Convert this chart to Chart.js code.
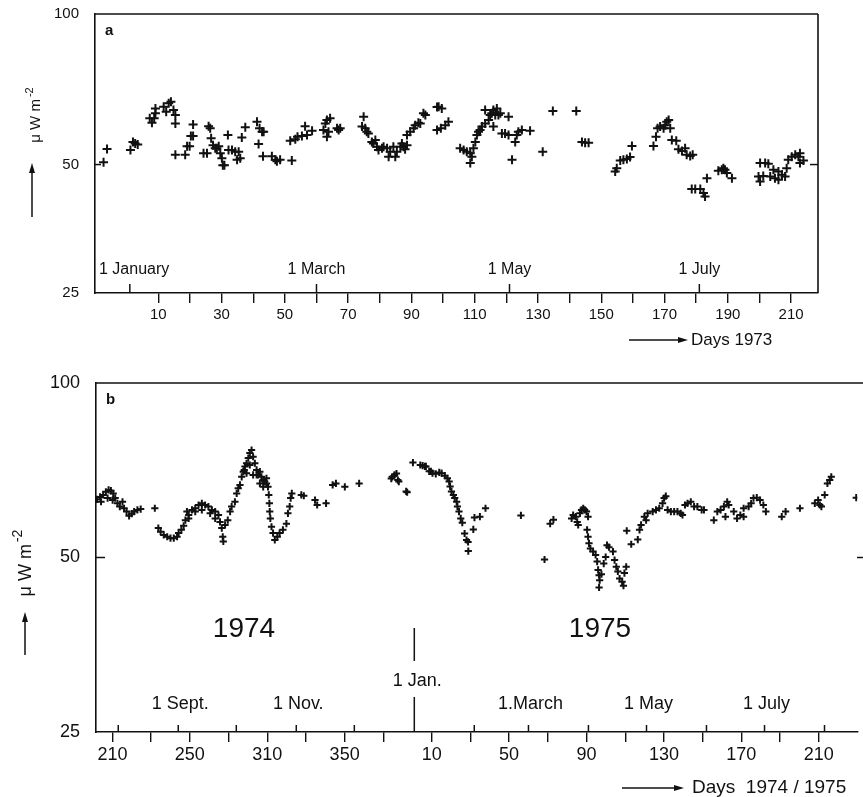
<!DOCTYPE html>
<html><head><meta charset="utf-8">
<script src="https://cdn.jsdelivr.net/npm/chart.js@4.4.1/dist/chart.umd.min.js"></script>
<style>
html,body{margin:0;padding:0;background:#fff;}
#wrap{position:relative;width:863px;height:797px;overflow:hidden;}
canvas{position:absolute;left:0;}
#ca{top:0;} #cb{top:370px;}
</style></head><body>
<div id="wrap"><canvas id="ca" width="863" height="370"></canvas><canvas id="cb" width="863" height="427"></canvas></div>
<script>
// ---------- Panel a: 1973 (day of year, value in µW m^-2) ----------
const aDays = [-7.3,-6.2,1.2,2.0,2.7,3.5,7.3,8.0,8.7,9.1,9.1,11.7,12.5,13.3,14.0,14.8,15.4,15.4,15.4,18.5,19.1,19.9,20.3,21.0,21.0,24.3,25.4,25.9,26.4,26.7,27.3,28.0,28.5,29.1,29.6,30.1,30.4,30.9,32.0,32.2,33.3,34.3,34.9,35.4,35.9,36.4,37.5,41.2,42.0,42.8,43.3,41.7,43.1,45.9,47.0,47.5,48.5,52.2,51.7,53.3,54.0,55.4,56.4,57.0,58.6,62.2,62.8,63.3,63.8,64.3,63.3,66.5,67.0,67.5,74.9,74.4,75.4,75.9,76.4,77.5,78.0,78.6,79.1,79.6,80.7,81.2,82.3,82.8,83.3,84.3,84.9,85.4,86.5,87.0,87.5,88.6,88.0,88.6,89.6,90.7,91.2,92.2,92.8,93.8,94.4,98.1,98.6,98.1,99.6,99.3,100.7,101.7,105.4,106.5,107.5,108.6,109.1,108.6,109.6,110.2,110.7,111.2,111.7,112.3,113.3,113.3,114.4,114.9,115.4,115.9,116.5,117.0,117.5,118.1,118.6,119.6,120.7,120.7,121.8,122.8,123.3,123.8,124.9,127.5,115.9,131.5,134.7,142.1,143.9,144.9,146.0,154.4,154.9,156.0,157.0,158.1,159.1,159.7,166.5,167.3,167.8,168.6,169.7,170.2,171.3,171.8,170.7,172.3,173.7,174.4,175.5,176.5,177.0,178.1,178.9,178.6,179.7,181.3,182.3,182.8,183.4,187.0,188.1,188.6,189.1,189.7,191.3,199.7,200.2,200.2,201.8,202.8,201.2,203.4,204.4,204.9,206.0,206.0,207.1,208.1,208.6,209.1,210.2,211.3,212.3,212.8,212.8,213.9];
const aValues = [50.6,54.0,53.7,55.9,55.5,55.2,62.6,61.3,62.6,64.1,65.6,66.1,64.6,67.2,67.7,65.1,63.6,61.1,52.5,52.5,54.7,54.7,57.5,57.5,60.8,52.9,52.9,60.3,59.7,56.9,55.0,54.2,54.2,54.7,52.9,51.6,49.8,49.8,57.8,53.7,53.7,53.3,51.2,53.3,51.6,57.1,60.0,61.6,59.7,58.7,58.7,55.3,52.1,52.1,51.2,50.8,51.2,51.0,56.2,56.6,57.3,57.5,60.3,57.8,59.0,59.2,61.1,62.1,58.7,62.6,57.3,59.7,59.2,59.7,63.1,60.2,59.7,58.7,58.2,55.9,55.5,56.4,54.6,53.7,54.2,54.6,54.2,52.0,53.3,54.6,52.0,53.3,54.6,55.5,54.6,55.0,53.9,57.8,58.7,59.7,60.6,61.3,61.1,64.1,63.6,66.0,66.1,59.2,65.6,59.7,60.6,61.6,54.2,53.7,53.3,52.9,52.0,50.4,54.2,55.9,57.8,58.7,59.2,60.2,65.1,61.1,62.1,63.6,64.1,65.1,63.6,65.6,63.6,64.1,58.2,58.2,63.1,57.8,51.2,55.9,57.8,58.7,59.2,59.0,60.2,53.3,64.8,64.8,55.9,55.7,55.7,48.3,49.1,51.0,51.2,51.4,51.9,54.8,54.8,57.3,59.7,60.2,59.7,60.6,62.1,59.7,61.6,56.4,56.2,53.9,53.5,54.2,52.5,52.2,52.5,44.2,44.2,44.2,43.3,42.5,46.7,48.5,48.7,49.1,48.7,47.9,46.7,47.1,45.9,50.4,50.4,50.2,47.2,47.1,48.7,46.7,46.3,48.3,47.5,47.1,49.1,51.2,52.0,52.5,52.0,50.4,52.9,51.0];
const aTickValues = [10,20,30,40,50,60,70,80,90,100,110,120,130,140,150,160,170,180,190,200,210];
const aTickLabels = ['10','','30','','50','','70','','90','','110','','130','','150','','170','','190','','210'];
const aYTicks = [25,50,100];
const aMonthDays = [1,60,121,181];
const aMonthLabels = ['1 January','1 March','1 May','1 July'];

// ---------- Panel b: 1974/1975 (day count: 1974 day d -> d, 1975 day d -> 365+d) ----------
const bDays = [202.0,203.6,204.1,205.2,206.6,207.5,208.0,209.2,210.1,210.4,211.4,212.6,213.8,215.2,216.0,217.3,218.6,220.0,221.2,222.9,224.6,231.9,233.7,234.9,236.5,238.3,240.0,241.7,243.4,244.2,245.6,246.8,247.7,248.5,249.4,249.4,251.1,252.8,252.8,254.5,256.2,256.2,257.9,259.6,260.5,261.4,263.1,263.1,264.8,265.6,266.5,267.0,267.3,268.2,269.6,270.8,271.6,273.3,274.2,275.0,275.9,276.8,277.6,278.1,278.5,279.3,279.3,280.2,281.0,281.0,281.9,282.7,282.7,283.6,284.5,284.5,285.3,286.2,286.2,287.0,287.9,287.9,288.7,289.6,289.6,290.4,290.8,291.1,291.3,291.6,292.2,293.0,293.9,295.2,296.4,298.1,299.9,300.7,301.6,302.1,302.7,307.6,308.9,314.7,315.8,320.4,323.8,325.5,330.1,337.5,354.1,354.6,355.8,356.8,357.5,358.0,361.8,362.3,365.3,369.1,370.3,371.5,372.0,373.7,374.6,375.4,377.1,378.9,380.1,381.8,383.1,384.0,384.5,385.2,386.2,386.9,387.9,388.3,389.1,390.0,390.8,392.0,393.0,393.8,393.9,396.5,397.1,399.9,402.8,421.1,433.3,436.2,437.9,447.3,448.1,449.5,450.2,450.7,451.6,452.4,453.3,454.1,455.0,455.8,455.3,455.8,456.3,457.0,458.4,459.7,460.5,461.0,461.5,461.8,461.5,462.7,463.9,464.9,465.6,466.6,468.7,469.5,470.4,471.2,472.1,473.4,474.1,474.6,475.5,475.8,478.1,481.5,482.4,483.2,484.9,485.8,486.6,489.2,490.9,492.6,494.3,495.1,496.0,496.9,498.6,500.3,502.0,503.7,504.6,505.9,507.2,508.9,510.6,512.3,514.5,515.7,520.8,522.6,524.3,526.0,526.8,527.7,528.5,531.1,532.8,534.5,536.2,536.2,538.8,540.1,541.3,543.0,544.7,546.4,547.7,555.9,557.9,565.3,573.0,574.7,575.6,576.4,578.1,579.5,580.7,581.5,594.4];
const bValues = [63.0,63.6,62.4,64.1,64.9,63.3,65.4,65.2,62.8,64.5,63.3,62.0,61.2,62.4,60.8,60.0,59.0,59.5,60.0,60.4,60.6,60.8,56.2,55.4,54.7,54.3,54.0,54.0,54.3,55.1,55.8,56.7,58.0,60.0,59.2,58.4,60.4,60.8,60.0,61.6,62.0,60.4,61.6,61.2,59.6,60.4,60.0,58.4,59.2,57.6,56.2,54.3,53.3,56.9,58.0,60.0,61.2,62.4,64.5,65.8,66.7,68.9,70.3,70.8,71.8,72.7,69.9,74.2,75.7,72.2,76.6,74.6,69.4,72.7,70.8,69.4,69.4,70.3,67.1,68.9,68.0,66.2,67.6,67.1,68.5,66.2,64.1,62.0,60.0,58.4,56.5,55.1,53.6,54.3,55.1,55.8,57.2,59.6,61.2,63.3,64.5,64.1,63.9,62.8,61.6,62.0,66.7,67.1,66.2,67.1,68.4,68.9,69.4,69.8,68.0,67.6,65.0,64.8,72.9,72.2,72.0,71.8,71.8,70.4,70.4,69.9,69.7,70.1,69.9,69.2,68.5,67.6,66.3,65.0,64.1,63.3,62.4,61.2,60.0,58.4,57.4,55.0,53.6,53.2,51.3,55.9,58.6,58.8,60.8,59.1,49.6,57.2,58.1,58.4,59.2,58.8,57.6,56.9,59.6,60.4,60.8,60.4,60.0,58.8,55.8,54.3,52.9,51.8,51.2,50.5,49.2,47.6,46.6,45.7,44.4,46.8,48.8,50.1,52.5,52.1,51.2,49.5,48.2,47.3,46.0,45.4,44.7,47.0,48.2,55.6,52.7,53.7,55.8,56.9,58.8,58.0,59.6,60.0,60.4,60.8,62.0,63.3,63.8,60.4,60.0,60.0,60.0,59.6,59.2,61.6,62.0,62.4,61.2,61.2,60.4,60.4,58.0,60.0,60.4,61.2,58.8,62.4,61.6,60.0,58.4,59.2,58.8,60.8,61.2,62.0,63.3,63.4,62.8,61.6,60.0,58.8,60.0,60.8,62.0,62.8,61.6,61.2,64.1,67.1,68.0,68.9,63.4];
const bTickValues = [210,230,250,270,290,310,330,350,375,395,415,435,455,475,495,515,535,555,575];
const bTickLabels = ['210','','250','','310','','350','','10','','50','','90','','130','','170','','210'];
const bYTicks = [25,50,100];
const bMonthDays = [213,244,274,305,335,366,397,425,456,486,517,547,578];
const bMonthLabels = ['','1 Sept.','','1 Nov.','','1 Jan.','','1.March','','1 May','','1 July',''];

const FONT = "'Liberation Sans', Arial, sans-serif";
const INK = '#111';

// power-law value axis for panel a (its 50 mark sits below the log midpoint)
class PowerScale extends Chart.LinearScale {
  _pw(v){ return Math.pow(v, this.options.exponent || 0.23); }
  getPixelForValue(value){
    if (value === null || value === undefined) return NaN;
    const a = this._pw(this.min), b = this._pw(this.max);
    return this.getPixelForDecimal((this._pw(value) - a) / (b - a));
  }
  getValueForPixel(pixel){
    const p = this.options.exponent || 0.23;
    const a = this._pw(this.min), b = this._pw(this.max);
    return Math.pow(a + this.getDecimalForPixel(pixel) * (b - a), 1 / p);
  }
}
PowerScale.id = 'power';
PowerScale.defaults = Chart.LinearScale.defaults;
Chart.register(PowerScale);

function line(ctx,x1,y1,x2,y2,w){ctx.beginPath();ctx.lineWidth=w;ctx.moveTo(x1,y1);ctx.lineTo(x2,y2);ctx.stroke();}
function arrowUp(ctx,x,yBottom,yTop){
  line(ctx,x,yBottom,x,yTop+6,1.5);
  ctx.beginPath();ctx.moveTo(x,yTop);ctx.lineTo(x-3,yTop+10);ctx.lineTo(x+3,yTop+10);ctx.closePath();ctx.fill();
}
function arrowRight(ctx,x1,x2,y){
  line(ctx,x1,y,x2-6,y,1.4);
  ctx.beginPath();ctx.moveTo(x2,y);ctx.lineTo(x2-10,y-3);ctx.lineTo(x2-10,y+3);ctx.closePath();ctx.fill();
}
function yTitle(ctx,baseX,cy,size){
  ctx.save();ctx.translate(baseX,cy);ctx.rotate(-Math.PI/2);
  ctx.textAlign='left';ctx.textBaseline='alphabetic';
  const main='\u03bc W m', sup='-2';
  ctx.font=size+'px '+FONT;const w1=ctx.measureText(main).width;
  ctx.font=Math.round(size*0.75)+'px '+FONT;const w2=ctx.measureText(sup).width;
  const s=-(w1+w2+2)/2;
  ctx.font=size+'px '+FONT;ctx.fillText(main,s,0);
  ctx.font=Math.round(size*0.75)+'px '+FONT;ctx.fillText(sup,s+w1+2,-size*0.5);
  ctx.restore();
}

const decorA = { id:'decorA', afterDraw(chart){
  const {ctx, chartArea:ca, scales:{x,y}} = chart;
  ctx.save(); ctx.strokeStyle=INK; ctx.fillStyle=INK;
  line(ctx,ca.left,ca.top,ca.right,ca.top,1.6);
  line(ctx,ca.right,ca.top,ca.right,ca.bottom,1.6);
  const y50=y.getPixelForValue(50);
  line(ctx,ca.left,y50,ca.left+6,y50,1.5);
  line(ctx,ca.right-8,y50,ca.right,y50,1.5);
  ctx.font='16px '+FONT;ctx.textAlign='center';ctx.textBaseline='middle';
  aMonthDays.forEach((d,i)=>{
    const px=x.getPixelForValue(d);
    line(ctx,px,ca.bottom,px,ca.bottom-9,1.5);
    const w=ctx.measureText(aMonthLabels[i]).width;
    ctx.fillText(aMonthLabels[i],Math.max(px,ca.left+4+w/2),ca.bottom-23);
  });
  ctx.font='bold 15px '+FONT;ctx.textAlign='left';ctx.textBaseline='alphabetic';
  ctx.fillText('a',ca.left+10,ca.top+21);
  yTitle(ctx,40,115,15);
  arrowUp(ctx,32,217,163);
  arrowRight(ctx,629,688,340);
  ctx.font='17px '+FONT;ctx.textAlign='left';ctx.textBaseline='middle';
  ctx.fillText('Days 1973',691,340);
  ctx.restore();
}};

const decorB = { id:'decorB', afterDraw(chart){
  const {ctx, chartArea:ca, scales:{x,y}} = chart;
  ctx.save(); ctx.strokeStyle=INK; ctx.fillStyle=INK;
  line(ctx,ca.left,ca.top,chart.width,ca.top,1.6);
  const y50=y.getPixelForValue(50);
  line(ctx,ca.left,y50,ca.left+9,y50,1.5);
  line(ctx,chart.width-6,y50,chart.width,y50,1.5);
  ctx.font='18px '+FONT;ctx.textAlign='center';ctx.textBaseline='middle';
  bMonthDays.forEach((d,i)=>{
    const px=x.getPixelForValue(d);
    if (bMonthLabels[i]==='1 Jan.'){
      line(ctx,px,ca.bottom,px,ca.bottom-35,1.5);
      line(ctx,px,ca.bottom-104,px,ca.bottom-71,1.5);
      ctx.fillText(bMonthLabels[i],px+3,ca.bottom-51);
    } else {
      line(ctx,px,ca.bottom,px,ca.bottom-7,1.5);
      if (bMonthLabels[i]) ctx.fillText(bMonthLabels[i],px+2,ca.bottom-28);
    }
  });
  ctx.font='28px '+FONT;
  ctx.fillText('1974',244,259);
  ctx.fillText('1975',600,259);
  ctx.font='bold 15px '+FONT;ctx.textAlign='left';ctx.textBaseline='alphabetic';
  ctx.fillText('b',ca.left+10,ca.top+21);
  yTitle(ctx,31,193,18);
  arrowUp(ctx,25,285,242);
  arrowRight(ctx,622,684,418);
  ctx.font='19px '+FONT;ctx.textAlign='left';ctx.textBaseline='middle';
  ctx.fillText('Days  1974 / 1975',692,418);
  ctx.restore();
}};

function pts(xs,ys){return xs.map((v,i)=>({x:v,y:ys[i]}));}
function noPadY(w){return s=>{s.width=w;s.paddingTop=0;s.paddingBottom=0;};}
function noPadX(h){return s=>{s.height=h;s.paddingLeft=0;s.paddingRight=0;};}

new Chart(document.getElementById('ca'), {
  type:'scatter',
  data:{datasets:[{data:pts(aDays,aValues),pointStyle:'cross',pointRadius:4.5,pointHoverRadius:4.5,
    borderWidth:2,pointBorderWidth:2,borderColor:INK,backgroundColor:INK}]},
  options:{
    responsive:false,animation:false,devicePixelRatio:1,events:[],
    layout:{padding:{top:14,right:45,left:0,bottom:0}},
    plugins:{legend:{display:false},tooltip:{enabled:false}},
    scales:{
      x:{type:'linear',position:'bottom',min:-10,max:218.5,bounds:'data',
        afterBuildTicks:s=>{s.ticks=aTickValues.map(v=>({value:v}));},
        afterFit:noPadX(77),
        ticks:{autoSkip:false,maxRotation:0,padding:3,color:INK,font:{family:FONT,size:15},callback:(v,i)=>aTickLabels[i]},
        grid:{display:true,drawOnChartArea:false,drawTicks:true,tickLength:10,color:INK,lineWidth:1.4},
        border:{display:true,color:INK,width:1.6}},
      y:{type:'power',exponent:0.229,min:25,max:100,bounds:'data',
        afterBuildTicks:s=>{s.ticks=aYTicks.map(v=>({value:v}));},
        afterFit:noPadY(95),
        ticks:{padding:16,color:INK,font:{family:FONT,size:15},callback:v=>String(v)},
        grid:{display:false,drawTicks:false},
        border:{display:true,color:INK,width:1.6}}
    }
  },
  plugins:[decorA]
});

new Chart(document.getElementById('cb'), {
  type:'scatter',
  data:{datasets:[{data:pts(bDays,bValues),pointStyle:'cross',pointRadius:3.6,pointHoverRadius:3.6,
    borderWidth:2,pointBorderWidth:2,borderColor:INK,backgroundColor:INK}]},
  options:{
    responsive:false,animation:false,devicePixelRatio:1,events:[],
    layout:{padding:{top:13,right:0,left:0,bottom:0}},
    plugins:{legend:{display:false},tooltip:{enabled:false}},
    scales:{
      x:{type:'linear',position:'bottom',min:201.5,max:595,bounds:'data',
        afterBuildTicks:s=>{s.ticks=bTickValues.map(v=>({value:v}));},
        afterFit:noPadX(65),
        ticks:{autoSkip:false,maxRotation:0,padding:2,color:INK,font:{family:FONT,size:18},callback:(v,i)=>bTickLabels[i]},
        grid:{display:true,drawOnChartArea:false,drawTicks:true,tickLength:10,color:INK,lineWidth:1.4},
        border:{display:true,color:INK,width:1.6}},
      y:{type:'logarithmic',min:25,max:100,bounds:'data',
        afterBuildTicks:s=>{s.ticks=bYTicks.map(v=>({value:v}));},
        afterFit:noPadY(96),
        ticks:{padding:16,color:INK,font:{family:FONT,size:18},callback:v=>String(v)},
        grid:{display:false,drawTicks:false},
        border:{display:true,color:INK,width:1.6}}
    }
  },
  plugins:[decorB]
});
</script></body></html>
